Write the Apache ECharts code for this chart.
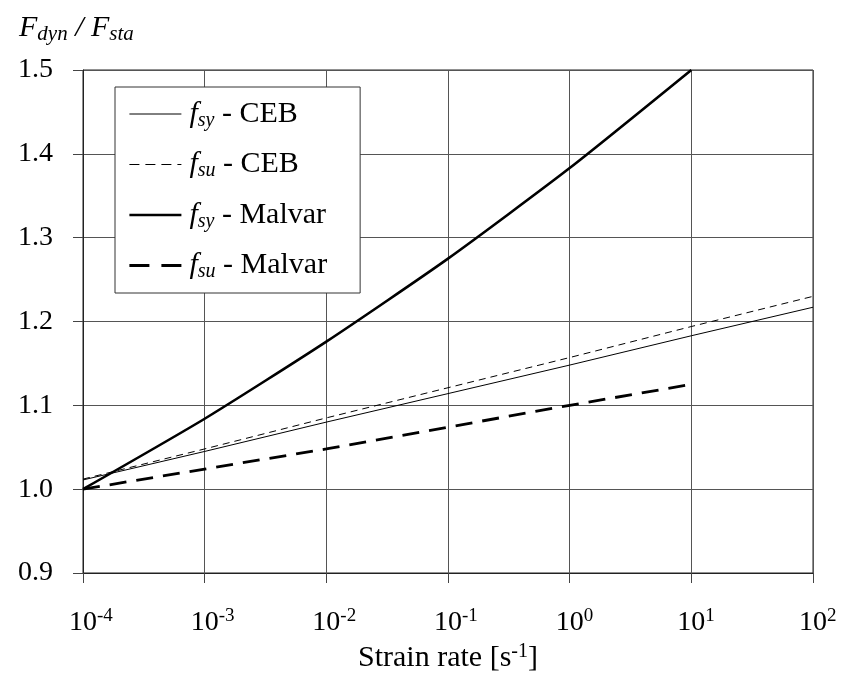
<!DOCTYPE html>
<html>
<head>
<meta charset="utf-8">
<script src="https://cdn.jsdelivr.net/npm/echarts@6/dist/echarts.min.js"></script>
<style>
  html, body { margin: 0; padding: 0; background: #fff; }
  #chart { width: 846px; height: 682px; }
</style>
</head>
<body>
<div id="chart"></div>
<script>
// strain rate at each decade, 1e-4 .. 1e2
const strainRates = [1e-4, 1e-3, 1e-2, 1e-1, 1e0, 1e1, 1e2]
const fsyCEB = [1.011, 1.045, 1.080, 1.114, 1.148, 1.183, 1.217]
const fsuCEB = [1.012, 1.048, 1.085, 1.121, 1.157, 1.194, 1.230]
// Malvar curves stop at 1e1
const fsyMalvar = [1.000, 1.084, 1.176, 1.275, 1.383, 1.500]
const fsuMalvar = [1.000, 1.024, 1.048, 1.074, 1.100, 1.125]
const yTicks = [0.9, 1.0, 1.1, 1.2, 1.3, 1.4, 1.5]

const FONT = 'Liberation Serif'
const pairs = (vals) => vals.map((v, i) => [strainRates[i], v])

const chart = echarts.init(document.getElementById('chart'))

const legendRich = {
  i: { fontFamily: FONT, fontStyle: 'italic', fontSize: 30, color: '#000' },
  sub: { fontFamily: FONT, fontStyle: 'italic', fontSize: 20, color: '#000', padding: [13, 0, 0, 0] },
  n: { fontFamily: FONT, fontSize: 30, color: '#000' }
}

function seriesName(sub, who) {
  return sub + ' - ' + who
}

// line style per series, also used for the legend keys
const styles = {
  fsyCEB: { color: '#000', width: 1 },
  fsuCEB: { color: '#000', width: 1, type: [7, 5] },
  fsyMalvar: { color: '#000', width: 2.6 },
  fsuMalvar: { color: '#000', width: 2.8, type: [17, 10] }
}

chart.setOption({
  backgroundColor: '#fff',
  animation: false,
  title: {
    left: 14, top: 6,
    text: '{i|F}{sub|dyn}{n| / }{i|F}{sub|sta}',
    textStyle: {
      rich: {
        i: { fontFamily: FONT, fontStyle: 'italic', fontWeight: 'normal', fontSize: 30, color: '#000' },
        sub: { fontFamily: FONT, fontStyle: 'italic', fontWeight: 'normal', fontSize: 21, color: '#000', padding: [13, 0, 0, 0] },
        n: { fontFamily: FONT, fontStyle: 'italic', fontWeight: 'normal', fontSize: 30, color: '#000' }
      }
    }
  },
  legend: {
    orient: 'vertical',
    left: 115, top: 87,
    padding: [11, 33, 11, 13],
    itemGap: 18,
    itemWidth: 52,
    itemHeight: 14,
    backgroundColor: '#fff',
    borderColor: '#333',
    borderWidth: 1,
    borderRadius: 0,
    itemStyle: { opacity: 0 },
    textStyle: { lineHeight: 32, padding: [0, 0, 0, 3], rich: legendRich },
    formatter: (name) => {
      const [sub, who] = name.split(' - ')
      return '{i|f}{sub|' + sub + '}{n| - ' + who + '}'
    },
    data: [
      { name: seriesName('sy', 'CEB'), lineStyle: styles.fsyCEB },
      { name: seriesName('su', 'CEB'), lineStyle: { color: '#000', width: 1, type: [10, 6] } },
      { name: seriesName('sy', 'Malvar'), lineStyle: styles.fsyMalvar },
      { name: seriesName('su', 'Malvar'), lineStyle: { color: '#000', width: 2.8, type: [20, 12] } }
    ]
  },
  grid: { left: 83, right: 33, top: 70, bottom: 109, show: true, borderColor: '#222', borderWidth: 1 },
  xAxis: {
    type: 'log',
    logBase: 10,
    min: strainRates[0],
    max: strainRates[strainRates.length - 1],
    name: '{n|Strain rate [s}{sup|-1}{n|]}',
    nameLocation: 'middle',
    nameGap: 59,
    nameTextStyle: {
      rich: {
        n: { fontFamily: FONT, fontSize: 30, color: '#000' },
        sup: { fontFamily: FONT, fontSize: 20, color: '#000', padding: [0, 0, 13, 0] }
      }
    },
    axisLine: { lineStyle: { color: '#222', width: 1 } },
    axisTick: { show: true, length: 10, lineStyle: { color: '#444' } },
    minorTick: { show: false },
    splitLine: { show: true, lineStyle: { color: '#555', width: 1 } },
    axisLabel: {
      margin: 34,
      formatter: (v) => {
        const e = String(Math.round(Math.log10(v)))
        return '{sp|' + e + '}{b|10}{s|' + e + '}'
      },
      rich: {
        sp: { fontFamily: FONT, fontSize: 19, color: 'transparent' },
        b: { fontFamily: FONT, fontSize: 28, color: '#000' },
        s: { fontFamily: FONT, fontSize: 19, color: '#000', padding: [0, 0, 13, 0] }
      }
    }
  },
  yAxis: {
    type: 'value',
    min: yTicks[0],
    max: yTicks[yTicks.length - 1],
    interval: 0.1,
    axisLine: { show: true, lineStyle: { color: '#222', width: 1 } },
    axisTick: { show: true, length: 10, lineStyle: { color: '#444' } },
    splitLine: { show: true, lineStyle: { color: '#555', width: 1 } },
    axisLabel: {
      margin: 30,
      fontFamily: FONT,
      fontSize: 28,
      color: '#000',
      formatter: (v) => v.toFixed(1)
    }
  },
  series: [
    {
      name: seriesName('sy', 'CEB'), type: 'line', data: pairs(fsyCEB),
      symbol: 'none', lineStyle: styles.fsyCEB, itemStyle: { color: '#000' }
    },
    {
      name: seriesName('su', 'CEB'), type: 'line', data: pairs(fsuCEB),
      symbol: 'none', lineStyle: styles.fsuCEB, itemStyle: { color: '#000' }
    },
    {
      name: seriesName('sy', 'Malvar'), type: 'line', data: pairs(fsyMalvar), smooth: 0.2,
      symbol: 'none', lineStyle: styles.fsyMalvar, itemStyle: { color: '#000' }
    },
    {
      name: seriesName('su', 'Malvar'), type: 'line', data: pairs(fsuMalvar),
      symbol: 'none', lineStyle: styles.fsuMalvar, itemStyle: { color: '#000' }
    }
  ]
})
</script>
</body>
</html>
